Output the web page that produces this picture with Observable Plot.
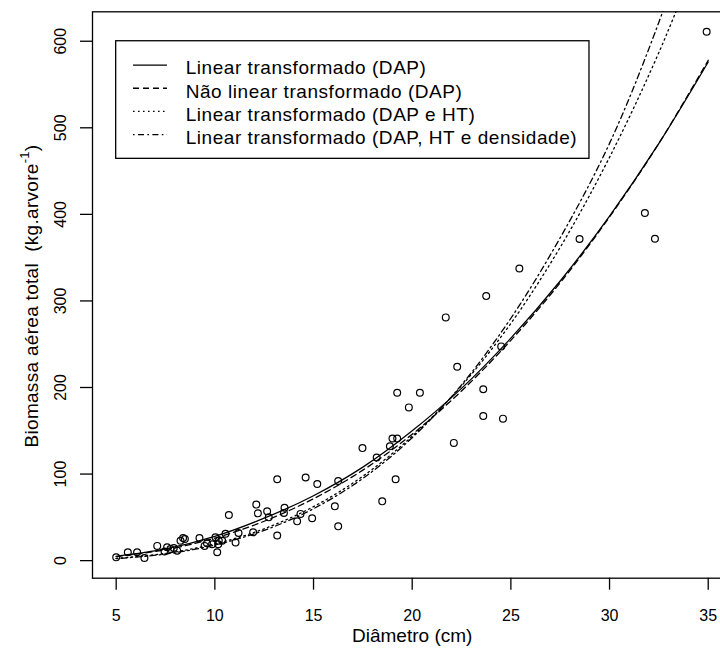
<!DOCTYPE html>
<html>
<head>
<meta charset="utf-8">
<script src="https://cdn.jsdelivr.net/npm/d3@7"></script>
<script src="https://cdn.jsdelivr.net/npm/@observablehq/plot@0.6"></script>
<style>
  html, body { margin: 0; padding: 0; background: #fff; overflow: hidden; }
  #chart { width: 720px; height: 652px; overflow: hidden; }
  #chart svg text { white-space: pre; }
</style>
</head>
<body>
<div id="chart"></div>
<script>
// Observed trees: diameter (cm) and total above-ground biomass (kg per tree)
const diametro = [
  5.0, 5.59, 6.06, 6.43, 7.08, 7.45, 7.58, 7.75, 7.92, 8.09,
  8.26, 8.39, 8.48, 9.22, 9.48, 9.6, 9.86, 10.03, 10.12, 10.17,
  10.2, 10.37, 10.54, 10.71, 11.05, 11.2, 11.94, 12.1, 12.18, 12.65,
  12.73, 13.16, 13.16, 13.5, 13.53, 14.17, 14.34, 14.6, 14.93, 15.19,
  16.08, 16.25, 16.25, 17.48, 18.2, 18.48, 18.87, 19.0, 19.16, 19.24,
  19.24, 19.83, 20.39, 21.7, 22.11, 22.28, 23.6, 23.6, 23.75, 24.51,
  24.6, 25.43, 28.48, 31.79, 32.3, 34.92
];
const biomassa = [
  3.8, 9.6, 9.6, 3.1, 17, 10.4, 15.4, 13.5, 14.6, 11.5,
  23, 26, 25, 26, 17, 20, 19, 27, 9.6, 19,
  23, 23, 31, 52.7, 21, 32, 32.7, 64.7, 54.6, 57,
  50, 94, 29, 55, 61, 45.4, 54, 96, 49, 88.5,
  62.7, 92, 39.6, 130, 119, 68.5, 132, 141, 94, 141,
  194, 177, 194, 281, 136, 224, 198, 167, 305.6, 247.5,
  164, 337.5, 371.5, 401.5, 371.8, 610.9
];

// Fitted equations, read at regular diameters
const gridDAP = [5, 7.5, 10, 12.5, 15, 17.5, 20, 22.5, 25, 27.5, 30, 32.5, 35];
const linDAP       = [5, 13.5, 28, 49, 75, 108, 150, 199, 257, 323, 398, 482, 576];
const naoLinDAP    = [4.6, 12.6, 26, 45.5, 71.5, 104.5, 146, 196, 254.5, 321, 397, 482, 578];
const linDAPHT     = [2.6, 8.4, 19.3, 36.8, 62.4, 97.5, 143.7, 202, 274, 362, 466, 587, 728];
const linDAPHTDens = [2.3, 7.6, 18, 35, 60, 95, 142, 203, 280, 373, 482, 622, 790];

const legendLabels = [
  "Linear transformado (DAP)",
  "Não linear transformado (DAP)",
  "Linear transformado (DAP e HT)",
  "Linear transformado (DAP, HT e densidade)"
];

const xTicks = [5, 10, 15, 20, 25, 30, 35];
const yTicks = [0, 100, 200, 300, 400, 500, 600];
const xTitle = "Diâmetro (cm)";
const yTitle = "Biomassa aérea total  (kg.arvore";

// line types: solid, dashed, dotted, dot-dash
const dashPatterns = ["none", "6,4", "1.6,3.4", "1.6,3.4,6,3.4"];
const font = "'Liberation Sans', Arial, sans-serif";

const points = diametro.map((d, i) => ({d, b: biomassa[i]}));
const curves = [linDAP, naoLinDAP, linDAPHT, linDAPHTDens].map((vals, k) =>
  gridDAP.map((d, i) => ({d, b: vals[i], k}))
);

const chart = Plot.plot({
  width: 720,
  height: 652,
  marginLeft: 92,
  marginTop: 11.3,
  marginBottom: 74.3,
  marginRight: -11.4,
  x: {domain: [3.8, 36.2]},
  y: {domain: [-20.3, 634]},
  style: {fontFamily: font, fontSize: "16px", background: "white", color: "black"},
  marks: [
    ...curves.map((c, k) => Plot.line(c, {
      x: "d", y: "b", curve: "catmull-rom", stroke: "black", strokeWidth: 1.3,
      strokeDasharray: dashPatterns[k], clip: true
    })),
    Plot.dot(points, {x: "d", y: "b", r: 3.4, stroke: "black", strokeWidth: 1.2, fill: "none"}),
    Plot.frame({stroke: "black", strokeWidth: 1.3}),
    Plot.axisX({ticks: xTicks, tickSize: 12, tickPadding: 19, fontSize: 16, label: null, strokeWidth: 1.3}),
    Plot.axisY({ticks: yTicks, tickSize: 12, fill: "none", label: null, strokeWidth: 1.3}),
    // y tick labels run parallel to the axis
    Plot.text(yTicks, {
      y: d => d, text: d => String(d), frameAnchor: "left", dx: -27,
      rotate: -90, textAnchor: "middle", lineAnchor: "bottom", fontSize: 16, fill: "black"
    }),
    Plot.text([xTitle], {frameAnchor: "bottom", lineAnchor: "bottom", dy: 63.5, fontSize: 19, fill: "black"})
  ]
});

document.getElementById("chart").appendChild(chart);

const svg = d3.select(chart);
const sx = chart.scale("x"), sy = chart.scale("y");

// y-axis title with superscript exponent
const yMid = (sy.apply(-20.3) + sy.apply(634)) / 2;
const yt = svg.append("text")
  .attr("transform", `translate(38,${yMid + 1.5}) rotate(-90)`)
  .attr("text-anchor", "middle")
  .attr("font-family", font)
  .attr("font-size", 19)
  .attr("letter-spacing", "0.3px")
  .attr("fill", "black");
yt.append("tspan").text(yTitle);
yt.append("tspan").attr("font-size", 13).attr("dy", -9).text("-1");
yt.append("tspan").attr("dy", 9).text(")");

// legend anchored at (5, 600) in data coordinates
const lx = sx.apply(5), ly = sy.apply(600);
const lg = svg.append("g")
  .attr("font-family", font)
  .attr("font-size", 19)
  .attr("letter-spacing", "0.55px")
  .attr("text-anchor", "start")
  .attr("fill", "black");
lg.append("rect")
  .attr("x", lx).attr("y", ly)
  .attr("width", 473.3).attr("height", 117.6)
  .attr("fill", "none").attr("stroke", "black").attr("stroke-width", 1.3);
legendLabels.forEach((label, i) => {
  const base = ly + 33.6 + i * 23.2;
  lg.append("line")
    .attr("x1", lx + 17.3).attr("x2", lx + 51.3)
    .attr("y1", base - 9.3).attr("y2", base - 9.3)
    .attr("stroke", "black").attr("stroke-width", 1.3)
    .attr("stroke-dasharray", dashPatterns[i]);
  lg.append("text").attr("x", lx + 70).attr("y", base).attr("text-anchor", "start").text(label);
});
</script>
</body>
</html>
